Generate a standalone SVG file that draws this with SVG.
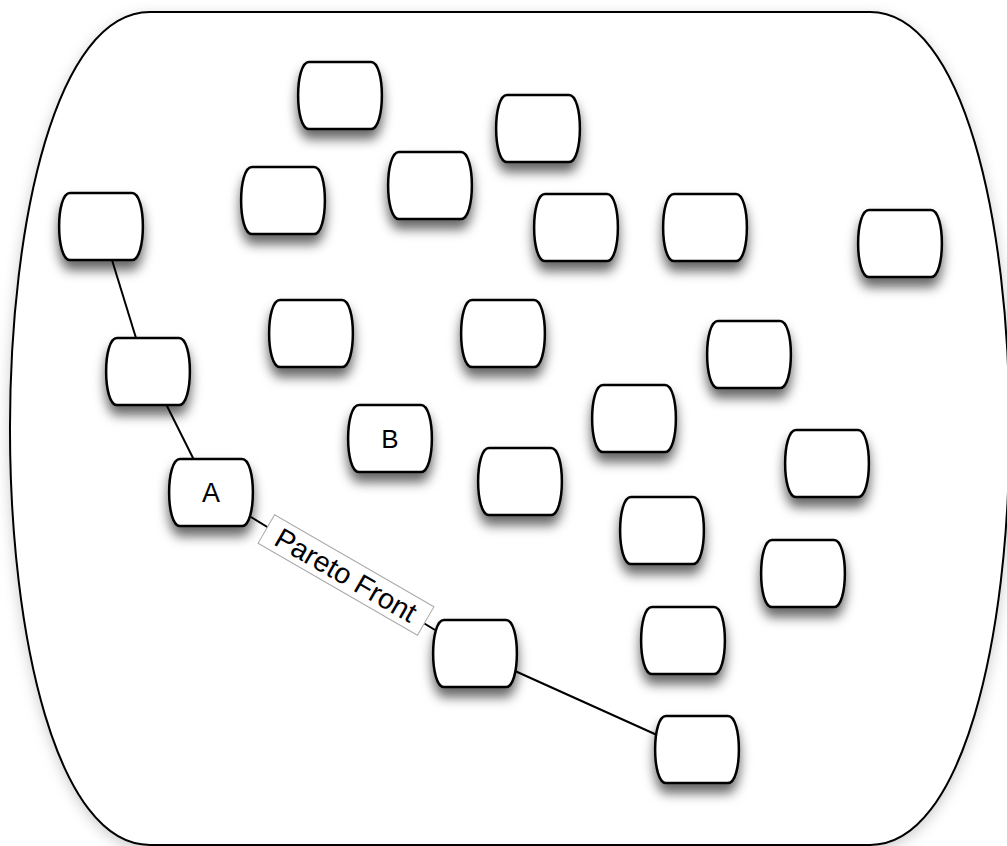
<svg xmlns="http://www.w3.org/2000/svg" xmlns:xlink="http://www.w3.org/1999/xlink" width="1007" height="846" viewBox="0 0 1007 846">
  <defs>
    <filter id="sh" x="-30%" y="-30%" width="160%" height="190%">
      <feDropShadow dx="0" dy="9" stdDeviation="6" flood-color="#000" flood-opacity="0.6"/>
    </filter>
    <filter id="shc" x="-10%" y="-10%" width="120%" height="120%">
      <feDropShadow dx="0" dy="4" stdDeviation="7" flood-color="#000" flood-opacity="0.2"/>
    </filter>
    <path id="nd" d="M10,0 H72 C86.5,0 86.5,67 72,67 H10 C-4.5,67 -4.5,0 10,0 Z"/>
  </defs>
  <style>
    .node use { fill: #fff; stroke: #000; stroke-width: 2.5; filter: url(#sh); }
    .lbl { font-family: "Liberation Sans", Arial, sans-serif; fill: #000; text-anchor: middle; }
    .conn line { stroke: #000; stroke-width: 2; }
  </style>
  <rect width="1007" height="846" fill="#fff"/>
  <g id="container">
    <path d="M150,12 H870 C1056,12 1056,845 870,845 H150 C-36.7,845 -36.7,12 150,12 Z" fill="#fff" stroke="#000" stroke-width="2" filter="url(#shc)"/>
  </g>
  <g id="connectors" class="conn">
    <line x1="112" y1="260" x2="136" y2="338"/>
    <line x1="166" y1="404" x2="194" y2="460"/>
    <line x1="251" y1="517" x2="435" y2="630"/>
    <line x1="515" y1="671" x2="657" y2="735"/>
  </g>
  <g id="n1" class="node"><use xlink:href="#nd" x="299" y="62"/></g>
  <g id="n2" class="node"><use xlink:href="#nd" x="497" y="95"/></g>
  <g id="n3" class="node"><use xlink:href="#nd" x="242" y="167"/></g>
  <g id="n4" class="node"><use xlink:href="#nd" x="389" y="152"/></g>
  <g id="n5" class="node"><use xlink:href="#nd" x="60" y="193"/></g>
  <g id="n6" class="node"><use xlink:href="#nd" x="535" y="194"/></g>
  <g id="n7" class="node"><use xlink:href="#nd" x="664" y="194"/></g>
  <g id="n8" class="node"><use xlink:href="#nd" x="859" y="210"/></g>
  <g id="n9" class="node"><use xlink:href="#nd" x="270" y="300"/></g>
  <g id="n10" class="node"><use xlink:href="#nd" x="462" y="300"/></g>
  <g id="n11" class="node"><use xlink:href="#nd" x="708" y="321"/></g>
  <g id="n12" class="node"><use xlink:href="#nd" x="107" y="338"/></g>
  <g id="nB" class="node"><use xlink:href="#nd" x="349" y="405"/><text class="lbl" x="390" y="448" font-size="26">B</text></g>
  <g id="n14" class="node"><use xlink:href="#nd" x="593" y="385"/></g>
  <g id="n15" class="node"><use xlink:href="#nd" x="786" y="430"/></g>
  <g id="n16" class="node"><use xlink:href="#nd" x="479" y="448"/></g>
  <g id="nA" class="node"><use xlink:href="#nd" x="170" y="459"/><text class="lbl" x="211" y="502" font-size="27">A</text></g>
  <g id="n18" class="node"><use xlink:href="#nd" x="621" y="497"/></g>
  <g id="n19" class="node"><use xlink:href="#nd" x="762" y="540"/></g>
  <g id="n20" class="node"><use xlink:href="#nd" x="434" y="620"/></g>
  <g id="n21" class="node"><use xlink:href="#nd" x="642" y="607"/></g>
  <g id="n22" class="node"><use xlink:href="#nd" x="656" y="716"/></g>
  <g id="pareto-label" transform="translate(346,575) rotate(30)">
    <rect x="-92" y="-16.5" width="184" height="33" fill="#fff" stroke="#aaa" stroke-width="1"/>
    <text class="lbl" x="0" y="10" font-size="28.5">Pareto Front</text>
  </g>
</svg>
